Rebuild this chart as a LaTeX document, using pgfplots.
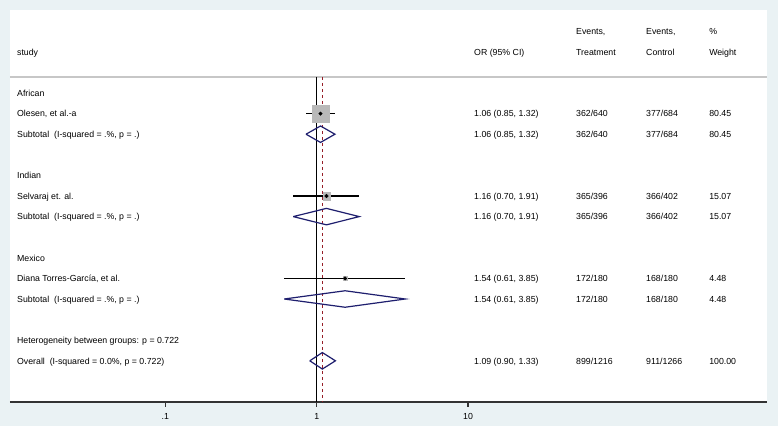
\documentclass[border=0pt]{standalone}
\usepackage{pgfplots}
\pgfplotsset{compat=1.18}
\usepackage{fontspec}
\setmainfont{Liberation Sans}
\definecolor{bgc}{RGB}{234,242,244}
\definecolor{dnavy}{RGB}{30,30,110}
\definecolor{dred}{RGB}{150,30,40}
\definecolor{sqgray}{RGB}{185,185,185}
\begin{document}
\begin{tikzpicture}[font=\fontsize{8.8}{10}\selectfont,
  txt/.style={anchor=base west, inner sep=0pt, yshift=-3.2bp}]
\fill[bgc] (-10bp,-24bp) rectangle (768bp,402bp);
\fill[white] (0,0) rectangle (757bp,392bp);
\begin{axis}[
  at={(0,0)}, anchor=south west, scale only axis,
  width=757bp, height=392bp,
  xmode=log, xmin=0.0094, xmax=946,
  ymin=-15, ymax=4.03,
  axis x line=bottom, axis y line=none,
  axis line style={-, line width=1.3bp, black!80},
  xtick={0.1,1,10}, xticklabels={.1,1,10},
  xminorticks=false,
  tick align=outside, major tick length=4.5bp,
  tick style={line width=1.2bp, black!80},
  xticklabel style={font=\fontsize{8.8}{10}\selectfont, yshift=-3.5bp},
  clip=false,
]
% header line
\addplot[black!22, line width=1.6bp] coordinates {(0.0094,0.78) (946,0.78)};
% reference lines
\addplot[black, line width=0.9bp] coordinates {(1,0.78) (1,-15)};
\addplot[dred, line width=0.8bp, dashed, dash pattern=on 3.5bp off 2.5bp] coordinates {(1.09,0.78) (1.09,-15)};
% weight squares
\addplot[only marks, mark=square*, mark size=8.5bp, sqgray] coordinates {(1.06,-1)};
\addplot[only marks, mark=square*, mark size=3.7bp, sqgray] coordinates {(1.16,-5)};
\addplot[only marks, mark=square*, mark size=2bp, sqgray] coordinates {(1.54,-9)};
% CI lines
\addplot[black, line width=1.2bp] coordinates {(0.85,-1) (1.32,-1)};
\addplot[black, line width=1.2bp] coordinates {(0.70,-5) (1.91,-5)};
\addplot[black, line width=1.2bp] coordinates {(0.61,-9) (3.85,-9)};
% point estimates
\addplot[only marks, mark=*, mark size=1.8bp, black] coordinates {(1.06,-1) (1.16,-5) (1.54,-9)};
% diamonds
\addplot[dnavy, line width=1.2bp] coordinates {(0.85,-2) (1.06,-1.6) (1.32,-2) (1.06,-2.4) (0.85,-2)};
\addplot[dnavy, line width=1.2bp] coordinates {(0.70,-6) (1.16,-5.6) (1.91,-6) (1.16,-6.4) (0.70,-6)};
\addplot[dnavy, line width=1.2bp] coordinates {(0.61,-10) (1.54,-9.6) (3.85,-10) (1.54,-10.4) (0.61,-10)};
\addplot[dnavy, line width=1.2bp] coordinates {(0.90,-13) (1.09,-12.6) (1.33,-13) (1.09,-13.4) (0.90,-13)};
% headers
\node[txt] at (axis cs:0.01045,2) {study};
\node[txt] at (axis cs:10.96,2) {OR (95\% CI)};
\node[txt] at (axis cs:51.7,3) {Events,};
\node[txt] at (axis cs:51.7,2) {Treatment};
\node[txt] at (axis cs:150.1,3) {Events,};
\node[txt] at (axis cs:150.1,2) {Control};
\node[txt] at (axis cs:391.7,3) {\%};
\node[txt] at (axis cs:391.7,2) {Weight};
% study labels
\node[txt] at (axis cs:0.01045,0) {African};
\node[txt] at (axis cs:0.01045,-1) {Olesen, et al.-a};
\node[txt] at (axis cs:0.01045,-2) {Subtotal\ \ (I-squared = .\%, p = .)};
\node[txt] at (axis cs:0.01045,-4) {Indian};
\node[txt] at (axis cs:0.01045,-5) {Selvaraj et. al.};
\node[txt] at (axis cs:0.01045,-6) {Subtotal\ \ (I-squared = .\%, p = .)};
\node[txt] at (axis cs:0.01045,-8) {Mexico};
\node[txt] at (axis cs:0.01045,-9) {Diana Torres-García, et al.};
\node[txt] at (axis cs:0.01045,-10) {Subtotal\ \ (I-squared = .\%, p = .)};
\node[txt] at (axis cs:0.01045,-12) {Heterogeneity between groups: p = 0.722};
\node[txt] at (axis cs:0.01045,-13) {Overall\ \ (I-squared = 0.0\%, p = 0.722)};
% OR column
\node[txt] at (axis cs:10.96,-1) {1.06 (0.85, 1.32)};
\node[txt] at (axis cs:10.96,-2) {1.06 (0.85, 1.32)};
\node[txt] at (axis cs:10.96,-5) {1.16 (0.70, 1.91)};
\node[txt] at (axis cs:10.96,-6) {1.16 (0.70, 1.91)};
\node[txt] at (axis cs:10.96,-9) {1.54 (0.61, 3.85)};
\node[txt] at (axis cs:10.96,-10) {1.54 (0.61, 3.85)};
\node[txt] at (axis cs:10.96,-13) {1.09 (0.90, 1.33)};
% Treatment column
\node[txt] at (axis cs:51.7,-1) {362/640};
\node[txt] at (axis cs:51.7,-2) {362/640};
\node[txt] at (axis cs:51.7,-5) {365/396};
\node[txt] at (axis cs:51.7,-6) {365/396};
\node[txt] at (axis cs:51.7,-9) {172/180};
\node[txt] at (axis cs:51.7,-10) {172/180};
\node[txt] at (axis cs:51.7,-13) {899/1216};
% Control column
\node[txt] at (axis cs:150.1,-1) {377/684};
\node[txt] at (axis cs:150.1,-2) {377/684};
\node[txt] at (axis cs:150.1,-5) {366/402};
\node[txt] at (axis cs:150.1,-6) {366/402};
\node[txt] at (axis cs:150.1,-9) {168/180};
\node[txt] at (axis cs:150.1,-10) {168/180};
\node[txt] at (axis cs:150.1,-13) {911/1266};
% Weight column
\node[txt] at (axis cs:391.7,-1) {80.45};
\node[txt] at (axis cs:391.7,-2) {80.45};
\node[txt] at (axis cs:391.7,-5) {15.07};
\node[txt] at (axis cs:391.7,-6) {15.07};
\node[txt] at (axis cs:391.7,-9) {4.48};
\node[txt] at (axis cs:391.7,-10) {4.48};
\node[txt] at (axis cs:391.7,-13) {100.00};
\end{axis}
\end{tikzpicture}
\end{document}
